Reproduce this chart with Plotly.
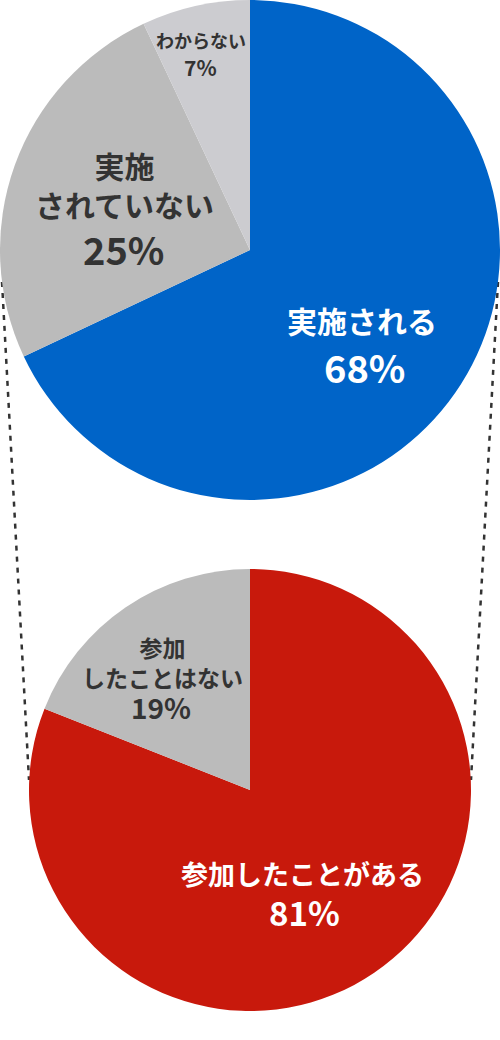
import plotly.graph_objects as go

W, H = 500, 1040

# Data
top_labels = ["実施される", "実施<br>されていない", "わからない"]
top_values = [68, 25, 7]
top_colors = ["#0064c8", "#bbbbbb", "#ccccd0"]

bot_labels = ["参加したことがある", "参加<br>したことはない"]
bot_values = [81, 19]
bot_colors = ["#c8190c", "#bbbbbb"]

FONT = "Noto Sans CJK JP"

# geometry (pixels, from top)
top_c, top_r = (250, 250), 250
bot_c, bot_r = (250, 790), 221


def ydom(cy, r):
    return [(H - (cy + r)) / H, (H - (cy - r)) / H]


def xdom(cx, r):
    return [(cx - r) / W, (cx + r) / W]


def px(x):
    return x / W


def py(y):
    return 1 - y / H


fig = go.Figure()

# connector dotted lines (drawn below the pies)
shapes = [
    dict(type="line", xref="paper", yref="paper", layer="below",
         x0=px(2), y0=py(282), x1=px(29), y1=py(780),
         line=dict(color="#333333", width=2.5, dash="5px,6px")),
    dict(type="line", xref="paper", yref="paper", layer="below",
         x0=px(498), y0=py(282), x1=px(471), y1=py(780),
         line=dict(color="#333333", width=2.5, dash="5px,6px")),
]

fig.add_trace(go.Pie(values=top_values, labels=top_labels, sort=False, direction="clockwise",
                     rotation=0, marker=dict(colors=top_colors, line=dict(width=0)),
                     textinfo="none", hoverinfo="label+percent", showlegend=False,
                     domain=dict(x=xdom(top_c[0], top_r), y=ydom(top_c[1], top_r))))
fig.add_trace(go.Pie(values=bot_values, labels=bot_labels, sort=False, direction="clockwise",
                     rotation=0, marker=dict(colors=bot_colors, line=dict(width=0)),
                     textinfo="none", hoverinfo="label+percent", showlegend=False,
                     domain=dict(x=xdom(bot_c[0], bot_r), y=ydom(bot_c[1], bot_r))))

ann = []


def label(x, y, text, size, color):
    ann.append(dict(x=px(x), y=py(y), xref="paper", yref="paper", text=text, showarrow=False,
                    xanchor="center", yanchor="middle", borderpad=0,
                    font=dict(family=FONT, size=size, color=color, weight=700)))


# top pie labels
label(362, 320, top_labels[0], 30, "white")
label(364, 366, f"{top_values[0]}%", 38, "white")
label(124, 184, top_labels[1], 30, "#333333")
label(123, 248, f"{top_values[1]}%", 38, "#333333")
label(201, 40, top_labels[2], 18, "#333333")
label(200, 67, f"{top_values[2]}%", 21, "#333333")

# bottom pie labels
label(302, 873, bot_labels[0], 27, "white")
label(304, 912, f"{bot_values[0]}%", 33, "white")
label(162, 662, bot_labels[1], 23, "#333333")
label(161, 707, f"{bot_values[1]}%", 28, "#333333")

fig.update_layout(annotations=ann, shapes=shapes, width=W, height=H,
                  margin=dict(l=0, r=0, t=0, b=0),
                  paper_bgcolor="white", plot_bgcolor="white", showlegend=False)

fig.write_html("out.html", config={"displayModeBar": False},
               post_script="document.body.style.margin='0';")
